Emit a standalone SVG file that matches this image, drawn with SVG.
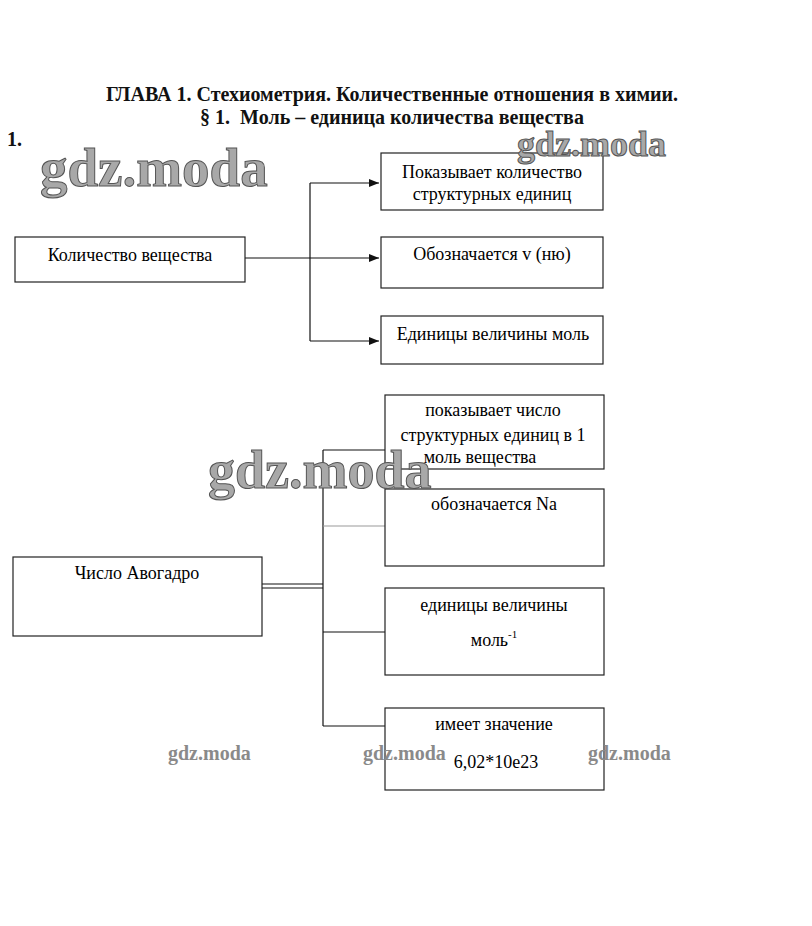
<svg xmlns="http://www.w3.org/2000/svg" width="812" height="926" viewBox="0 0 812 926">
<defs>
<style>
.t{font-family:"Liberation Serif","Times New Roman",serif;font-size:18px;fill:#000}
.h{font-family:"Liberation Serif","Times New Roman",serif;font-size:20px;font-weight:bold;fill:#111}
.box{fill:#fff;stroke:#222;stroke-width:1.2}
.ln{fill:none;stroke:#111;stroke-width:1.2}
.wm{font-family:"Liberation Serif","Times New Roman",serif;font-weight:bold;fill:#a8a8a8;stroke:#555;stroke-width:1}
.wms{font-family:"Liberation Serif","Times New Roman",serif;font-weight:bold;fill:#8a8a8a}
</style>
<marker id="arr" markerWidth="10" markerHeight="8" refX="10" refY="4" orient="auto" markerUnits="userSpaceOnUse">
<path d="M0,0 L10,4 L0,8 Z" fill="#111"/>
</marker>
</defs>
<rect width="812" height="926" fill="#fff"/>
<text class="h" x="392" y="101" text-anchor="middle">ГЛАВА 1. Стехиометрия. Количественные отношения в химии.</text>
<text class="h" x="392" y="124" text-anchor="middle">§ 1.&#160; Моль – единица количества вещества</text>
<text class="h" x="7" y="146">1.</text>

<g id="connectors">
<path class="ln" d="M245,258 L379,258" marker-end="url(#arr)"/>
<path class="ln" d="M310,183 L310,341"/>
<path class="ln" d="M310,183 L379,183" marker-end="url(#arr)"/>
<path class="ln" d="M310,341 L379,341" marker-end="url(#arr)"/>
<path class="ln" d="M262,584 L323,584 M262,588 L323,588"/>
<path class="ln" d="M323,450 L323,726"/>
<path class="ln" d="M323,450 L385,450"/>
<path d="M323,526 L385,526" fill="none" stroke="#999" stroke-width="1.2"/>
<path class="ln" d="M323,632 L385,632"/>
<path class="ln" d="M323,726 L385,726"/>
</g>

<g id="n-kolichestvo">
<rect class="box" x="15" y="237" width="230" height="45"/>
<text class="t" x="130" y="261" text-anchor="middle" font-size="19.5">Количество вещества</text>
</g>
<g id="n-pokazyvaet">
<rect class="box" x="381" y="153" width="222" height="57"/>
<text class="t" x="492" y="178" text-anchor="middle">Показывает количество</text>
<text class="t" x="492" y="200" text-anchor="middle">структурных единиц</text>
</g>
<g id="n-oboznachaetsya">
<rect class="box" x="381" y="237" width="222" height="51"/>
<text class="t" x="492" y="260" text-anchor="middle">Обозначается v (ню)</text>
</g>
<g id="n-edinicy">
<rect class="box" x="381" y="316" width="222" height="48"/>
<text class="t" x="493" y="340" text-anchor="middle">Единицы величины моль</text>
</g>

<g id="n-avogadro">
<rect class="box" x="13" y="557" width="249" height="79"/>
<text class="t" x="137" y="579" text-anchor="middle">Число Авогадро</text>
</g>
<g id="n-pokazyvaet-chislo">
<rect class="box" x="385" y="395" width="219" height="74"/>
<text class="t" x="493" y="416" text-anchor="middle">показывает число</text>
<text class="t" x="493" y="441" text-anchor="middle">структурных единиц в 1</text>
<text class="t" x="480" y="463" text-anchor="middle">моль вещества</text>
</g>
<g id="n-na">
<rect class="box" x="385" y="489" width="219" height="77"/>
<text class="t" x="494" y="510" text-anchor="middle">обозначается Na</text>
</g>
<g id="n-mol">
<rect class="box" x="385" y="588" width="219" height="87"/>
<text class="t" x="494" y="611" text-anchor="middle">единицы величины</text>
<text class="t" x="494" y="646" text-anchor="middle">моль<tspan font-size="11" dy="-8">-1</tspan></text>
</g>
<g id="n-znachenie">
<rect class="box" x="385" y="708" width="219" height="82"/>
<text class="t" x="494" y="730" text-anchor="middle">имеет значение</text>
<text class="t" x="496" y="768" text-anchor="middle" font-size="19">6,02*10e23</text>
</g>

<text class="wm" x="40" y="186" font-size="55">gdz.moda</text>
<text class="wm" x="517" y="156" font-size="36">gdz.moda</text>
<text class="wm" x="208" y="488" font-size="54">gdz.moda</text>
<text class="wms" x="168" y="760" font-size="20">gdz.moda</text>
<text class="wms" x="363" y="760" font-size="20">gdz.moda</text>
<text class="wms" x="588" y="760" font-size="20">gdz.moda</text>
</svg>
